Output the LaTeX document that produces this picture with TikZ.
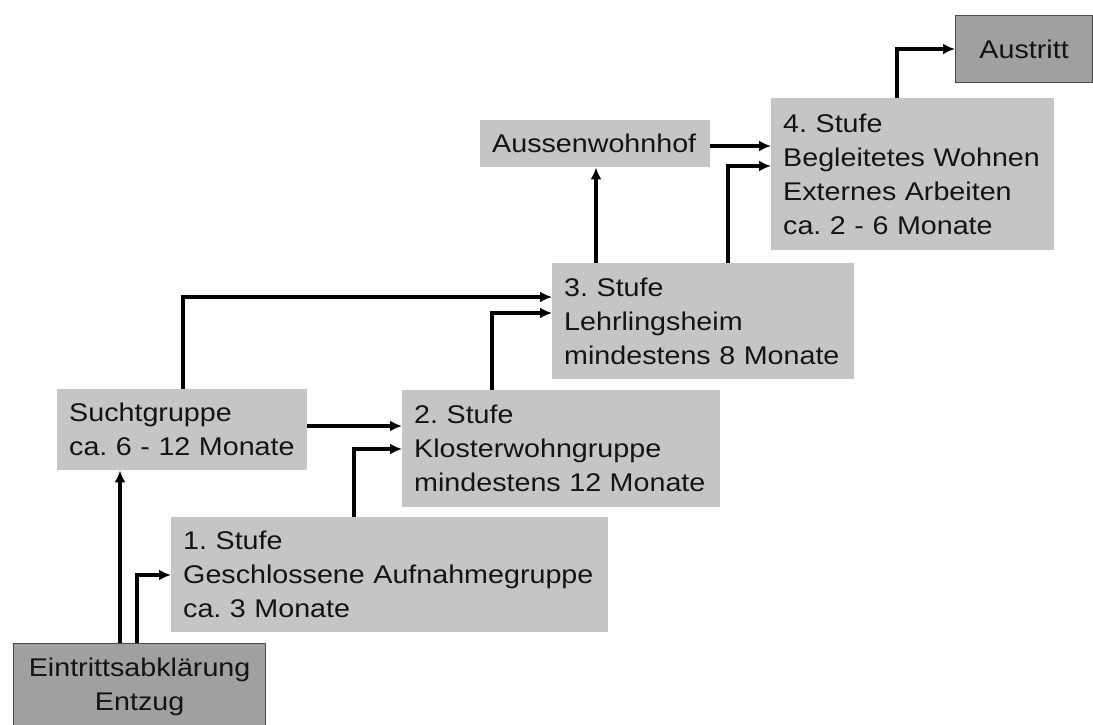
\documentclass[tikz,border=0pt]{standalone}
\usepackage{fontspec}
\setmainfont{Liberation Sans}[FakeStretch=1.12]
\usetikzlibrary{arrows.meta}
\definecolor{lightbox}{RGB}{197,197,197}
\definecolor{darkbox}{RGB}{160,160,160}
\definecolor{darkedge}{RGB}{75,75,75}
\definecolor{txt}{RGB}{20,20,20}
\tikzset{
  boxfont/.style={font=\fontsize{25.6}{34}\selectfont\frenchspacing, text=txt},
  box/.style={rectangle, fill=lightbox, draw=none, anchor=north west, inner xsep=12pt, inner ysep=0pt, align=left, boxfont},
  endbox/.style={rectangle, fill=darkbox, draw=darkedge, line width=1.2pt, anchor=north west, inner sep=0pt, align=center, boxfont},
  arr/.style={line width=3.2pt, -{Latex[length=12pt,width=11pt]}},
}
\begin{document}
\begin{tikzpicture}[x=1pt,y=-1pt]
\useasboundingbox (0,0) rectangle (1093,725);
\fill[white] (0,0) rectangle (1093,725);
\node[endbox, minimum width=252pt, minimum height=87pt] (ein) at (13,643) {Eintrittsabklärung\\Entzug};
\node[box, text width=413pt, minimum height=115pt] (s1) at (171,517) {1. Stufe\\\mbox{Geschlossene Aufnahmegruppe}\\ca. 3 Monate};
\node[box, text width=226pt, minimum height=81pt] (such) at (57,389) {Suchtgruppe\\ca. 6 - 12 Monate};
\node[box, text width=294pt, minimum height=117pt] (s2) at (402,390) {2. Stufe\\Klosterwohngruppe\\\mbox{mindestens 12 Monate}};
\node[box, text width=278pt, minimum height=116pt] (s3) at (552,263) {3. Stufe\\Lehrlingsheim\\mindestens 8 Monate};
\node[box, text width=206pt, minimum height=47pt] (aus) at (480,120) {Aussenwohnhof};
\node[box, text width=259pt, minimum height=152pt] (s4) at (771,98) {4. Stufe\\\mbox{Begleitetes Wohnen}\\Externes Arbeiten\\ca. 2 - 6 Monate};
\node[endbox, minimum width=137pt, minimum height=67pt] (austritt) at (955,15) {Austritt};
\draw[arr] (ein.north -| 120,0) -- (such.south -| 120,0);
\draw[arr] (ein.north -| 137,0) |- (s1.west |- 0,575);
\draw[arr] (such.east |- 0,426) -- (s2.west |- 0,426);
\draw[arr] (such.north -| 183,0) |- (s3.west |- 0,297);
\draw[arr] (s1.north -| 354,0) |- (s2.west |- 0,449);
\draw[arr] (s2.north -| 492,0) |- (s3.west |- 0,313);
\draw[arr] (s3.north -| 596,0) -- (aus.south -| 596,0);
\draw[arr] (aus.east |- 0,146) -- (s4.west |- 0,146);
\draw[arr] (s3.north -| 728,0) |- (s4.west |- 0,166);
\draw[arr] (s4.north -| 897,0) |- (austritt.west |- 0,49);
\end{tikzpicture}
\end{document}
